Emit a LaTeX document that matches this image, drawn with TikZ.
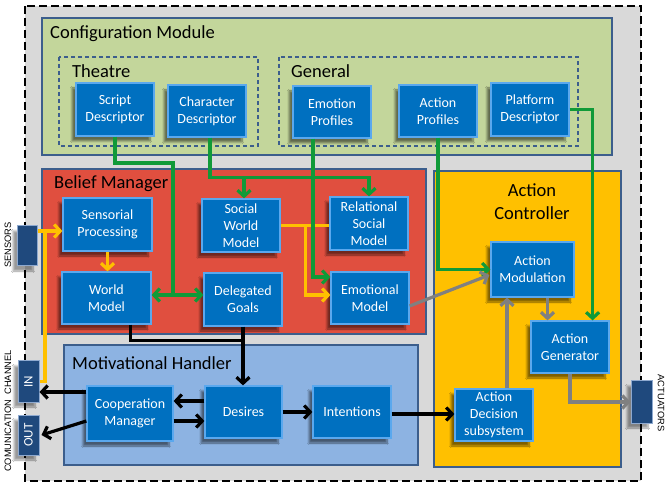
\documentclass[tikz,border=0pt]{standalone}
\usepackage{fontspec}
\usepackage{graphicx}
\setmainfont{Carlito}
\newfontfamily\arialf{Liberation Sans}
\usetikzlibrary{arrows.meta,calc,shadows.blur}
\definecolor{outerg}{HTML}{D9D9D9}
\definecolor{cfggreen}{HTML}{C3D69B}
\definecolor{belred}{HTML}{E04F3F}
\definecolor{actyel}{HTML}{FFC000}
\definecolor{motblue}{HTML}{8DB3E2}
\definecolor{contborder}{HTML}{3C5E8C}
\definecolor{boxblue}{HTML}{0070C0}
\definecolor{boxedge}{HTML}{5AA8EE}
\definecolor{sideblue}{HTML}{1F497D}
\definecolor{sideedge}{HTML}{8EA9CF}
\definecolor{lgreen}{HTML}{109A38}
\definecolor{lorange}{HTML}{FFC000}
\definecolor{lgray}{HTML}{808080}
\tikzset{
  container/.style={draw=contborder, line width=1.6pt},
  dashedgroup/.style={draw=contborder, line width=1.3pt, dash pattern=on 4pt off 3pt},
  title/.style={inner sep=0pt, font=\fontsize{18.5}{22}\selectfont, text=black},
  blockbox/.style={draw=boxedge, line width=1.2pt, fill=boxblue, text=white,
    align=center, inner sep=1pt, font=\fontsize{14}{17}\selectfont,
    blur shadow={shadow xshift=-4pt, shadow yshift=-5pt, shadow opacity=50, shadow blur steps=8}},
  sidebox/.style={draw=sideedge, line width=1pt, fill=sideblue, text=white,
    inner sep=0pt, font=\fontsize{13}{15}\selectfont,
    blur shadow={shadow xshift=-4pt, shadow yshift=-5pt, shadow opacity=40, shadow blur steps=8}},
  sidelabel/.style={inner sep=0pt, font=\arialf\fontsize{9.3}{11}\selectfont, text=black},
  tip/.style={-{Straight Barb[length=6pt,width=13pt]}},
  tips/.style={{Straight Barb[length=6pt,width=13pt]}-{Straight Barb[length=6pt,width=13pt]}},
  gline/.style={draw=lgreen, line width=3.2pt},
  oline/.style={draw=lorange, line width=3.2pt},
  kline/.style={draw=black, line width=3.2pt},
  yline/.style={draw=lgray, line width=3.2pt},
}
\begin{document}
\begin{tikzpicture}[x=1pt,y=-1pt]
\useasboundingbox (0,0) rectangle (667,486);
\fill[white] (0,0) rectangle (667,486);
% outer dashed frame
\draw[fill=outerg, line width=2.2pt, dash pattern=on 8pt off 4pt] (25,6) rectangle (641,481);

% containers
\draw[container, fill=cfggreen] (42,18) rectangle (612,155);
\draw[dashedgroup] (59,57) rectangle (258,146);
\draw[dashedgroup] (279,57) rectangle (578,146);
\draw[container, fill=belred] (42,169) rectangle (426,334);
\draw[container, fill=actyel] (434,171) rectangle (621,467);
\draw[container, fill=motblue] (64,345) rectangle (418,465);

% titles
\node[title, anchor=west] (tcfg) at (50,34) {Configuration Module};
\node[title, anchor=west] (tthe) at (72,71) {Theatre};
\node[title, anchor=west] (tgen) at (291,71) {General};
\node[title, anchor=west] (tbel) at (54,184) {Belief Manager};
\node[title, anchor=west] (tmot) at (72,363) {Motivational Handler};
\node[title, align=center, font=\fontsize{18.5}{23}\selectfont] (tact) at (532,202) {Action\\Controller};

% configuration boxes
\node[blockbox, minimum width=78pt, minimum height=53pt] (sd) at (115,109.5) {Script\\Descriptor};
\node[blockbox, minimum width=78pt, minimum height=52pt] (cd) at (207,111) {Character\\Descriptor};
\node[blockbox, minimum width=78pt, minimum height=52pt] (ep) at (332,112) {Emotion\\Profiles};
\node[blockbox, minimum width=78pt, minimum height=52pt] (ap) at (438,111) {Action\\Profiles};
\node[blockbox, minimum width=78pt, minimum height=53pt] (pd) at (530,109.5) {Platform\\Descriptor};

% belief manager boxes
\node[blockbox, minimum width=89pt, minimum height=53pt] (sp) at (107.5,224.5) {Sensorial\\Processing};
\node[blockbox, minimum width=89pt, minimum height=52pt] (wm) at (106.5,298) {World\\Model};
\node[blockbox, minimum width=78pt, minimum height=53pt] (swm) at (241,225.5) {Social\\World\\Model};
\node[blockbox, minimum width=78pt, minimum height=53pt] (dg) at (243,299.5) {Delegated\\Goals};
\node[blockbox, minimum width=78pt, minimum height=53pt] (rsm) at (369,223.5) {Relational\\Social\\Model};
\node[blockbox, minimum width=78pt, minimum height=52pt] (em) at (370,298) {Emotional\\Model};

% action controller boxes
\node[blockbox, minimum width=83pt, minimum height=55pt] (am) at (532.5,269.5) {Action\\Modulation};
\node[blockbox, minimum width=78pt, minimum height=52pt] (ag) at (570,347) {Action\\Generator};
\node[blockbox, minimum width=78pt, minimum height=52pt] (ads) at (494,415) {Action\\Decision\\subsystem};

% motivational handler boxes
\node[blockbox, minimum width=86pt, minimum height=55pt] (cm) at (130,413.5) {Cooperation\\Manager};
\node[blockbox, minimum width=77pt, minimum height=52pt] (de) at (243.5,412) {Desires};
\node[blockbox, minimum width=78pt, minimum height=52pt] (int) at (352,412) {Intentions};

% side boxes
\node[sidebox, minimum width=20pt, minimum height=40pt] (sens) at (27,246) {};
\node[sidebox, minimum width=21pt, minimum height=41pt] (inb) at (28.5,381.5) {\rotatebox{90}{IN}};
\node[sidebox, minimum width=21pt, minimum height=40pt] (outb) at (28.5,435) {\rotatebox{90}{OUT}};
\node[sidebox, minimum width=21pt, minimum height=42pt] (act) at (641.5,402) {};

% side labels
\node[sidelabel, rotate=90] (lsens) at (8,245) {SENSORS};
\node[sidelabel, rotate=90] (lcom) at (8,411) {COMUNICATION\ \ CHANNEL};
\node[sidelabel, rotate=-90] (lact) at (661,403) {ACTUATORS};

% orange connectors
\coordinate (oj) at (45,231);
\draw[oline, tip] (sens.east |- oj) -- (sp.west |- oj);
\draw[oline] (inb.east) -| (oj);
\draw[oline, tip] (sp.south) -- (sp.south |- wm.north);
\draw[oline] (swm.east) -- (swm.east -| rsm.west);
\draw[oline, tip] ($(swm.east)+(25,0)$) |- ($(em.west)+(0,-3)$);

% green connectors
\coordinate (gj1) at (173,163);
\coordinate (gj2) at (173,295);
\draw[gline] (sd.south) |- (gj1) -- (gj2);
\draw[gline, tips] (wm.east |- gj2) -- (dg.west |- gj2);
\draw[gline, tip] ($(cd.south)+(3,0)$) |- ($(rsm.north)+(0,-19)$) coordinate (gc) -- (rsm.north);
\draw[gline, tip] ($(swm.north)+(3,0)$) coordinate (gs) ++(0,-21) -- (gs);
\draw[gline, tip] ($(ep.south)+(-19,0)$) |- ($(em.west)+(0,-21)$);
\draw[gline, tip] (ap.south) |- (am.west);
\draw[gline, tip] (pd.east) -| ($(ag.north east)+(-17,0)$);

% gray connectors
\draw[yline, tip] ($(em.east)+(0,8)$) -- ($(am.west)+(-1,5.5)$);
\draw[yline, tip] ($(am.south)+(15,0)$) coordinate (ya) -- (ya |- ag.north);
\draw[yline, tip] ($(ads.north)+(13,0)$) coordinate (yb) -- (yb |- am.south);
\draw[yline, tip] (ag.south) |- (act.west);

% black connectors
\draw[kline] ($(wm.south)+(24,0)$) |- ($(dg.south)+(0,14)$);
\draw[kline, tip] (dg.south) -- (dg.south |- de.north);
\draw[kline, tip] ($(cm.west)+(0,-21.5)$) coordinate (ka) -- (ka -| inb.east);
\draw[kline, tip] ($(cm.west)+(0,7.5)$) -- ($(outb.east)+(2,0)$);
\draw[kline, tip] ($(de.west)+(0,-11)$) coordinate (kb) -- (kb -| cm.east);
\draw[kline, tip] ($(cm.east)+(0,7.5)$) coordinate (kc) -- (kc -| de.west);
\draw[kline, tip] (de.east) -- (de.east -| int.west);
\draw[kline, tip] ($(int.east)+(0,2)$) coordinate (kd) -- (kd -| ads.west);
\end{tikzpicture}
\end{document}
